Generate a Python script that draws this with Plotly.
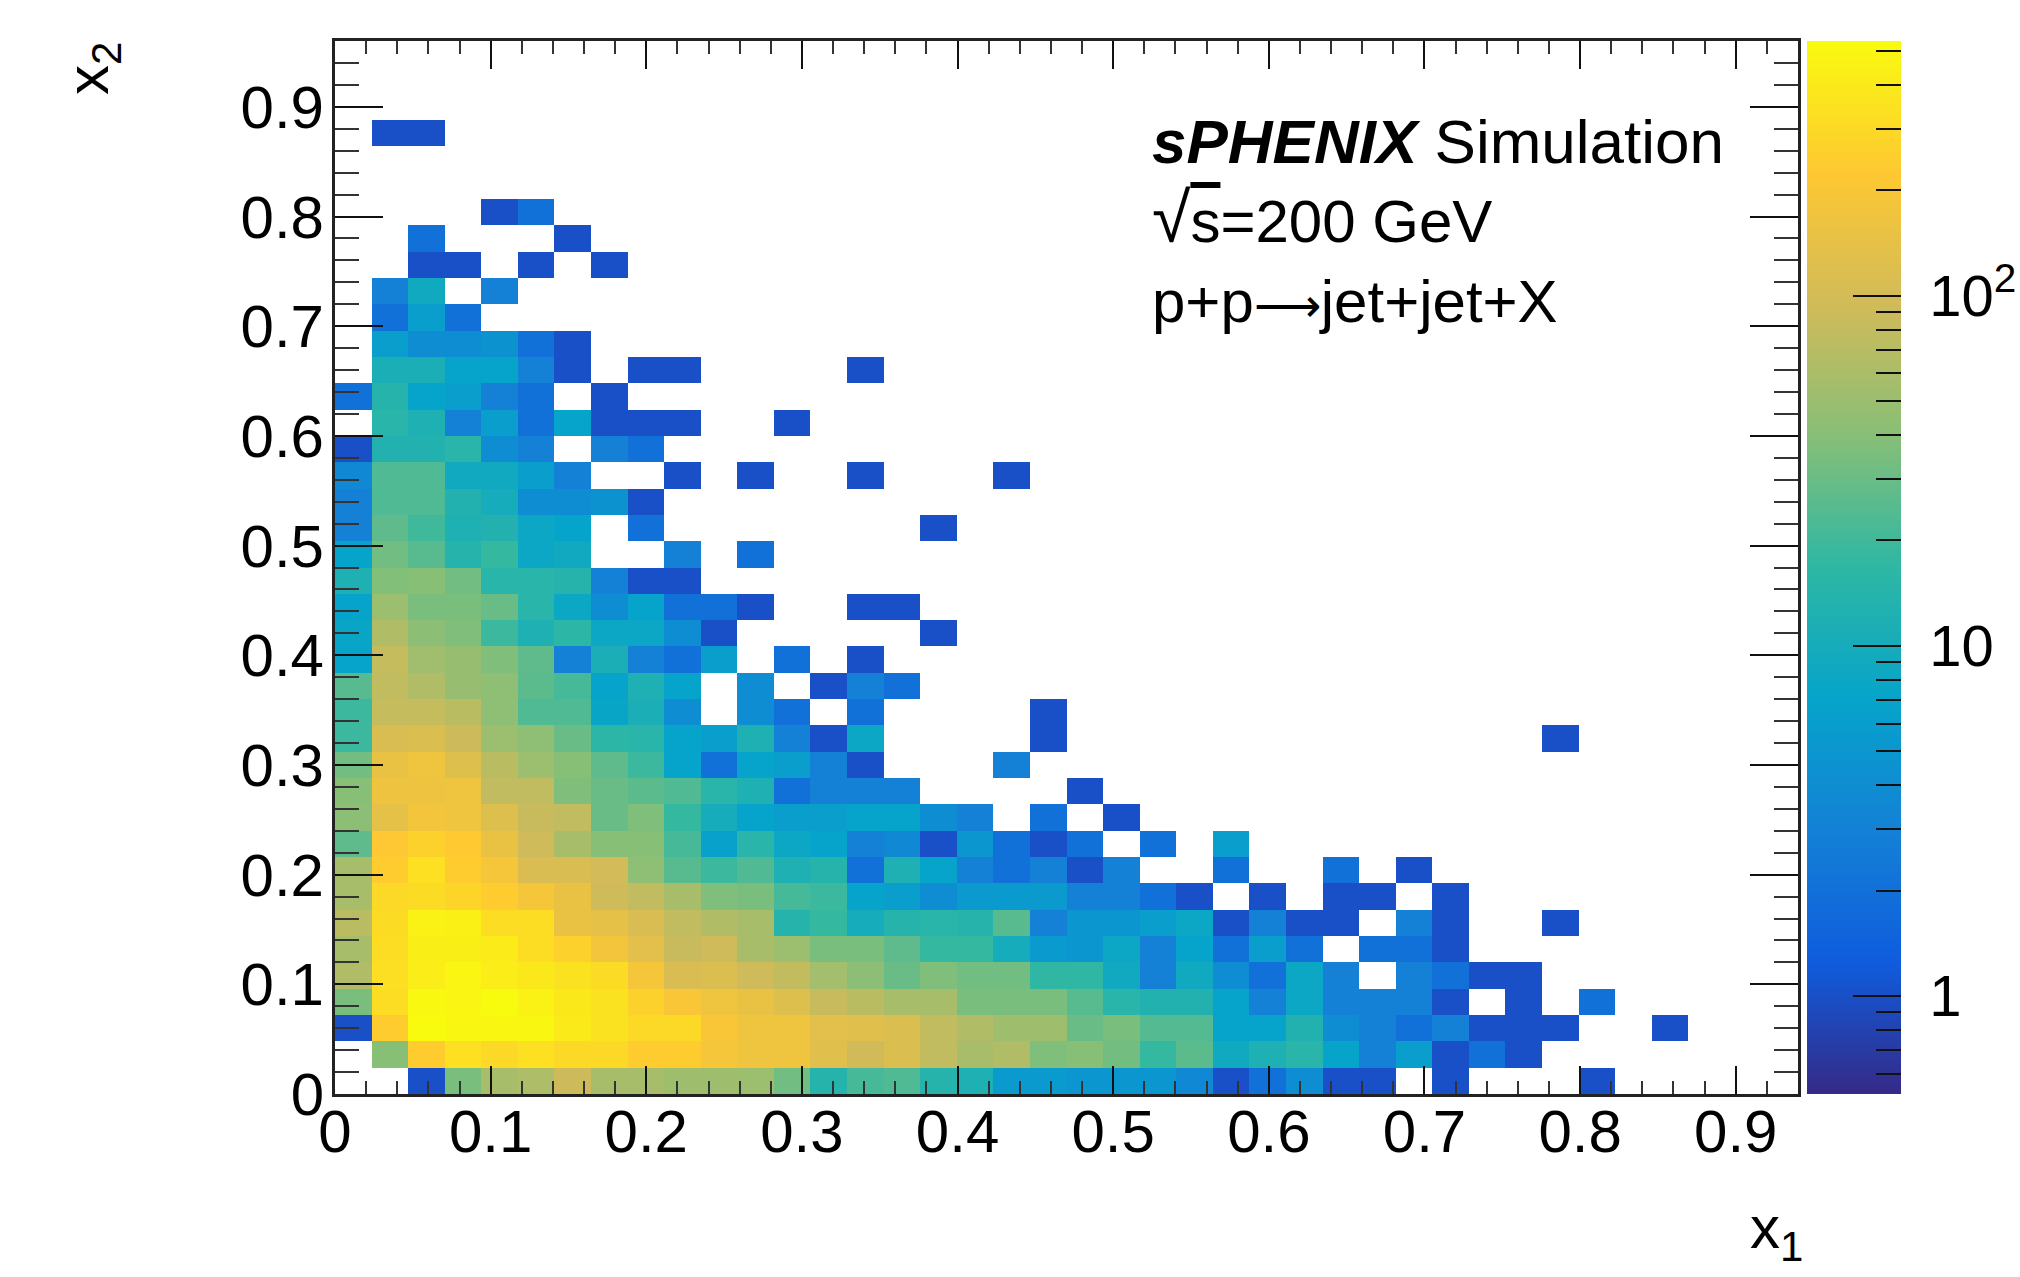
import numpy as np
import plotly.graph_objects as go

N = None
# Counts per bin, one list per x2 row (row_00 is the lowest); each entry is one x1 bin, starting at x1 = 0.
row_00 = [N,N,1,35,58,62,90,58,58,52,52,50,32,14,21,23,14,12,5.5,5.5,5,5,5,3.5,1,2,4,1,1,N,1,N,N,N,1]
row_01 = [N,40,240,340,300,340,300,300,240,240,190,170,170,125,95,115,78,58,65,37,40,33,18,26,9,12,15,7,3,6,1,2,1]
row_02 = [1,240,530,490,490,490,400,350,300,300,200,170,170,130,125,115,78,65,52,52,30,35,24,24,7,7,13,4,3,2,3,1,1,1,N,N,1]
row_03 = [35,320,510,480,530,460,390,350,260,200,170,150,120,85,72,58,58,35,35,35,25,15,13,13,7,3,8,3,3,3,1,N,1,N,2]
row_04 = [65,330,420,480,420,390,350,310,190,110,115,92,80,55,42,30,37,32,32,17,17,9,3,9,4,2,8,3,N,3,2,1,1]
row_05 = [58,320,430,430,410,320,260,180,130,85,92,58,50,35,35,27,18,18,10,5.5,5,8,3,7,2,6,2,N,2,2,1]
row_06 = [72,310,450,440,320,320,150,140,110,78,65,58,14,18,10,14,15,14,25,3,5,5,6,8,1,3,1,1,N,3,1,N,N,1]
row_07 = [58,300,310,280,240,190,150,92,78,58,37,35,21,19,7,6,4,5.5,5.5,5.5,3,3,2,1,N,1,N,1,1,N,1]
row_08 = [58,240,340,240,190,110,110,97,43,25,19,23,12,14,2,12,7,3,2,3,1,3,N,N,2,N,N,2,N,1]
row_09 = [27,220,260,230,150,92,58,40,40,21,6.5,15,8,7,3,3.5,1,5,2,1,2,N,2,N,6]
row_10 = [42,140,180,170,120,85,78,30,37,18,10,7,6,6,7,7,4,3,N,2,N,1]
row_11 = [40,165,165,170,78,78,37,30,26,23,15,12,2,3,3,3,N,N,N,N,1]
row_12 = [32,150,170,120,72,50,40,27,19,7,2,7,6,3,1,N,N,N,3]
row_13 = [19,110,115,90,50,43,30,16,15,7,6,12,3,1,8,N,N,N,N,1,N,N,N,N,N,N,N,N,N,N,N,N,N,1]
row_14 = [19,82,82,72,43,23,23,7.5,11,4,N,4,2,N,2,N,N,N,N,1]
row_15 = [25,78,65,48,43,26,21,7,12,7,N,4,N,1,3,2]
row_16 = [7,82,53,48,37,27,3,11,3,2,6,N,2,N,1]
row_17 = [7.5,65,42,37,19,12,16,8,8,4,1,N,N,N,N,N,1]
row_18 = [7,50,35,35,30,15,8,4,7,2,2,1,N,N,1,1]
row_19 = [12,38,40,32,15,15,14,3,1,1]
row_20 = [7,32,25,14,18,8,9,N,N,3,N,2]
row_21 = [3,27,20,12,13,8,7,N,2,N,N,N,N,N,N,N,1]
row_22 = [3,23,23,13,10,4,4,4.5,1]
row_23 = [3.5,23,23,9,9,6,3,N,N,1,N,1,N,N,1,N,N,N,1]
row_24 = [1,13,13,15,4,3,N,3,2]
row_25 = [N,15,12,3,6,2,7,1,1,1,N,N,1]
row_26 = [2,14,7,6,3,2,N,1]
row_27 = [N,11,11,7,7,3,1,N,1,1,N,N,N,N,1]
row_28 = [N,6,4,4,4.5,2,1]
row_29 = [N,2,6,2]
row_30 = [N,3,9,N,3]
row_31 = [N,N,1,1,N,1,N,1]
row_32 = [N,N,2,N,N,N,1]
row_33 = [N,N,N,N,1,2]
row_34 = []
row_35 = []
row_36 = [N,1,1]
row_37 = []
row_38 = []
row_39 = []

rows = [row_00,row_01,row_02,row_03,row_04,row_05,row_06,row_07,row_08,row_09,
        row_10,row_11,row_12,row_13,row_14,row_15,row_16,row_17,row_18,row_19,
        row_20,row_21,row_22,row_23,row_24,row_25,row_26,row_27,row_28,row_29,
        row_30,row_31,row_32,row_33,row_34,row_35,row_36,row_37,row_38,row_39]

x_edges_max = 0.94
y_edges_max = 0.96
n_bins = 40
tick_values = [0, 0.1, 0.2, 0.3, 0.4, 0.5, 0.6, 0.7, 0.8, 0.9]
tick_labels = ["0", "0.1", "0.2", "0.3", "0.4", "0.5", "0.6", "0.7", "0.8", "0.9"]
z_low, z_high = 0.525, 534.0
cbar_major = [1, 10, 100]
cbar_major_labels = ["\u00a01", "\u00a010", "\u00a010<sup>2</sup>"]
cbar_minor = [0.6, 0.7, 0.8, 0.9, 2, 3, 4, 5, 6, 7, 8, 9, 20, 30, 40, 50, 60, 70, 80, 90, 200, 300, 400, 500]

bird = ["#352a87", "#0f5cdd", "#1481d6", "#06a4ca", "#2eb7a4", "#87bf77", "#d1bb59", "#fec832", "#f9fb0e"]
colorscale = [[i / 8, c] for i, c in enumerate(bird)]
clear_scale = [[0, "rgba(0,0,0,0)"], [1, "rgba(0,0,0,0)"]]

grid = np.full((n_bins, n_bins), np.nan)
for r, row in enumerate(rows):
    for c, v in enumerate(row):
        if v is not None:
            grid[r, c] = np.log10(v)

dx = x_edges_max / n_bins
dy = y_edges_max / n_bins
zmin, zmax = float(np.log10(z_low)), float(np.log10(z_high))
FONT = "Liberation Sans"

plot_w, plot_h = 1463, 1053
bar_x = 1 + 9 / plot_w

fig = go.Figure()
fig.add_trace(go.Heatmap(
    z=grid, x0=dx / 2, dx=dx, y0=dy / 2, dy=dy, zmin=zmin, zmax=zmax,
    colorscale=colorscale, hoverongaps=False,
    colorbar=dict(
        x=bar_x, xanchor="left", xpad=0, y=0.5, yanchor="middle", ypad=0, len=1, lenmode="fraction",
        thickness=94, thicknessmode="pixels", outlinewidth=0,
        tickmode="array", tickvals=[float(np.log10(v)) for v in cbar_major], ticktext=cbar_major_labels,
        ticks="inside", ticklen=48, tickwidth=2, tickcolor="#111111",
        tickfont=dict(family=FONT, size=58, color="black"),
    ),
))
# Same range again: a clear second colour bar that carries the short log ticks.
fig.add_trace(go.Heatmap(
    z=[[0.0]], x0=dx / 2, dx=dx, y0=dy / 2, dy=dy, zmin=zmin, zmax=zmax,
    colorscale=clear_scale, hoverinfo="skip",
    colorbar=dict(
        x=bar_x, xanchor="left", xpad=0, y=0.5, yanchor="middle", ypad=0, len=1, lenmode="fraction",
        thickness=94, thicknessmode="pixels", outlinewidth=0,
        tickmode="array", tickvals=[float(np.log10(v)) for v in cbar_minor],
        showticklabels=False,
        ticks="inside", ticklen=25, tickwidth=2, tickcolor="#111111",
    ),
))


def axis(rng, major_len, minor_len, standoff):
    return dict(
        range=rng, tickmode="array", tickvals=tick_values, ticktext=tick_labels,
        ticks="inside", ticklen=major_len, tickwidth=2, tickcolor="#111111",
        minor=dict(ticks="inside", ticklen=minor_len, tickwidth=2, tickcolor="#333333",
                   tickmode="linear", tick0=0, dtick=0.02, showgrid=False),
        showgrid=False, zeroline=False, showline=True, linewidth=3, linecolor="#222222",
        mirror="allticks", tickfont=dict(family=FONT, size=60, color="black"),
        ticklabelstandoff=standoff,
    )


fig.update_layout(
    width=2020, height=1277, paper_bgcolor="white", plot_bgcolor="white",
    margin=dict(l=335, r=222, t=41, b=183, autoexpand=False),
    font=dict(family=FONT, color="black"),
    xaxis=axis([0, x_edges_max], 28, 13, -17),
    yaxis=axis([0, y_edges_max], 48, 24, -4),
)


def label(x, y, text, size=60, angle=0, anchor="left"):
    fig.add_annotation(x=x, y=y, xref="paper", yref="paper", text=text, showarrow=False,
                       xanchor=anchor, yanchor="middle", align="left", textangle=angle,
                       font=dict(family=FONT, size=size, color="black"))


def px_x(p):
    return (p - 335) / plot_w


def px_y(p):
    return (1094 - p) / plot_h


label(px_x(1150), px_y(141), "<b><i>sPHENIX</i></b> Simulation", size=62)
label(px_x(1150), px_y(218), "<span style='font-size:70px'>√</span><span style='text-decoration:overline'>s</span>=200 GeV")
label(px_x(1150), px_y(301), "p+p<span style='font-size:47px'>⟶</span>jet+jet+X")
label(px_x(1748), px_y(1232), "x<sub>1</sub>")
label(px_x(92), px_y(69), "x<sub>2</sub>", angle=-90, anchor="center")

fig.write_html("out.html", post_script="document.body.style.margin='0';", config={"displayModeBar": False})
